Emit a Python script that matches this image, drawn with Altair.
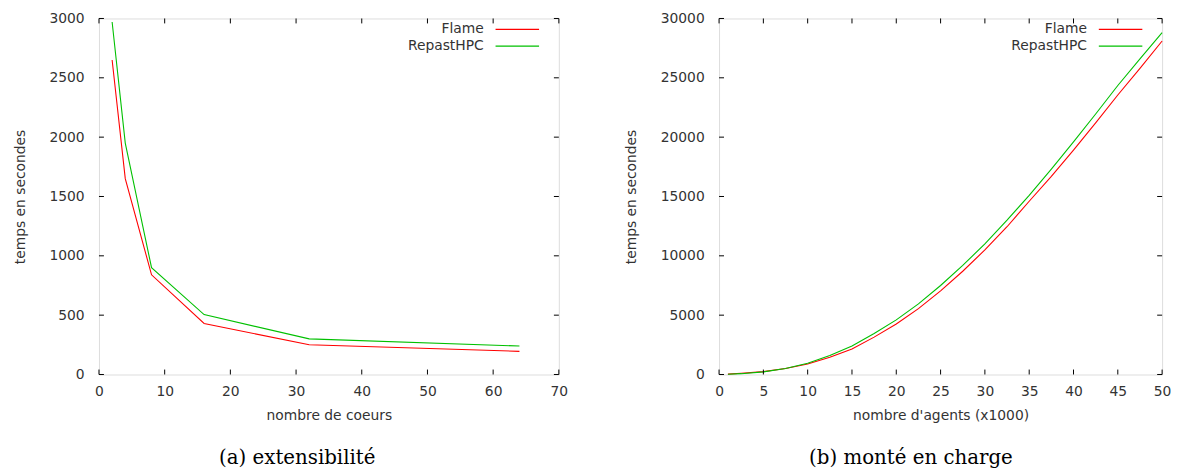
import altair as alt
import pandas as pd

# ---------------- data ----------------
series_names = ["Flame", "RepastHPC"]
series_colors = ["#ff0000", "#00c000"]

# (a) extensibilité
cores = [2, 4, 8, 16, 32, 64]
flame_a = [2650, 1650, 840, 430, 250, 195]
repast_a = [2970, 1950, 900, 505, 300, 240]

# (b) monté en charge
agents = [1, 2.5, 5, 7.5, 10, 12.5, 15, 17.5, 20, 22.5, 25, 27.5, 30,
          32.5, 35, 37.5, 40, 42.5, 45, 47.5, 50]
flame_b = [30, 100, 240, 500, 880, 1450, 2150, 3150, 4250, 5550, 7050, 8700,
           10500, 12450, 14600, 16700, 18900, 21200, 23550, 25800, 28100]
repast_b = [20, 70, 220, 500, 950, 1600, 2400, 3450, 4600, 5950, 7500, 9200,
            11000, 13000, 15100, 17300, 19600, 21950, 24350, 26600, 28800]

xticks_a = [0, 10, 20, 30, 40, 50, 60, 70]
yticks_a = [0, 500, 1000, 1500, 2000, 2500, 3000]
xticks_b = [0, 5, 10, 15, 20, 25, 30, 35, 40, 45, 50]
yticks_b = [0, 5000, 10000, 15000, 20000, 25000, 30000]

FONT = "DejaVu Sans"
TXT = "#333333"
FS = 14


def panel(xs, s1, s2, xticks, yticks, xtitle, caption, W, H, cap_dx):
    df = pd.DataFrame({
        "x": list(xs) * 2,
        "y": list(s1) + list(s2),
        "serie": [series_names[0]] * len(xs) + [series_names[1]] * len(xs),
    })
    xsc = alt.Scale(domain=[xticks[0], xticks[-1]], nice=False, zero=False)
    ysc = alt.Scale(domain=[yticks[0], yticks[-1]], nice=False)
    xaxis = alt.Axis(values=xticks, title=xtitle, grid=False, ticks=False, tickSize=0,
                     domain=False, labelPadding=10, titlePadding=11, format="d",
                     labelFlush=False,
                     labelFont=FONT, titleFont=FONT, labelFontSize=FS, titleFontSize=FS,
                     labelColor=TXT, titleColor=TXT, titleFontWeight="normal")
    yaxis = alt.Axis(values=yticks, title="temps en secondes", grid=False, ticks=False,
                     tickSize=0, domain=False, labelPadding=15, titlePadding=22,
                     format="d", labelFlush=False,
                     labelFont=FONT, titleFont=FONT, labelFontSize=FS, titleFontSize=FS,
                     labelColor=TXT, titleColor=TXT, titleFontWeight="normal")

    lines = alt.Chart(df).mark_line(strokeWidth=1.1).encode(
        x=alt.X("x:Q", scale=xsc, axis=xaxis),
        y=alt.Y("y:Q", scale=ysc, axis=yaxis),
        color=alt.Color("serie:N", scale=alt.Scale(domain=series_names, range=series_colors),
                        legend=None),
        detail="serie:N",
    )

    ydf = pd.DataFrame({"y": yticks})
    xdf = pd.DataFrame({"x": xticks})
    tl = 5
    ytl = alt.Chart(ydf).mark_rule(color="black", strokeWidth=1).encode(
        y=alt.Y("y:Q", scale=ysc, axis=yaxis), x=alt.value(0), x2=alt.value(tl))
    ytr = alt.Chart(ydf).mark_rule(color="black", strokeWidth=1).encode(
        y=alt.Y("y:Q", scale=ysc, axis=yaxis), x=alt.value(W - tl), x2=alt.value(W))
    xtb = alt.Chart(xdf).mark_rule(color="black", strokeWidth=1).encode(
        x=alt.X("x:Q", scale=xsc, axis=xaxis), y=alt.value(H - tl), y2=alt.value(H))
    xtt = alt.Chart(xdf).mark_rule(color="black", strokeWidth=1).encode(
        x=alt.X("x:Q", scale=xsc, axis=xaxis), y=alt.value(0), y2=alt.value(tl))

    # legend (gnuplot style: label then line sample, top-right inside)
    leg = []
    for i, (nm, col) in enumerate(zip(series_names, series_colors)):
        yy = 11 + 17 * i
        one = pd.DataFrame({"serie": [nm]})
        leg.append(alt.Chart(one).mark_text(
            align="right", baseline="middle", font=FONT, fontSize=FS, color=TXT
        ).encode(x=alt.value(W - 76), y=alt.value(yy), text="serie:N"))
        leg.append(alt.Chart(one).mark_rule(
            color=col, strokeWidth=1.1
        ).encode(x=alt.value(W - 64), x2=alt.value(W - 20), y=alt.value(yy)))

    return alt.layer(lines, ytl, ytr, xtb, xtt, *leg).properties(
        width=W, height=H,
        title=alt.TitleParams(caption, orient="bottom", anchor="middle", frame="group",
                              font="DejaVu Serif", fontSize=20, fontWeight="normal",
                              color="black", offset=26, dx=cap_dx),
    )


left = panel(cores, flame_a, repast_a, xticks_a, yticks_a, "nombre de coeurs",
             "(a)  extensibilité", 465, 360, -32)
right = panel(agents, flame_b, repast_b, xticks_b, yticks_b, "nombre d'agents (x1000)",
              "(b)  monté en charge", 448, 360, -30)

chart = alt.hconcat(left, right, spacing=55).properties(
    padding={"left": 4, "top": 0, "right": 0, "bottom": 0}
).configure_view(stroke="black", strokeWidth=1).configure(background="white")

chart.save("out.html", embed_options={"renderer": "svg", "actions": False})
